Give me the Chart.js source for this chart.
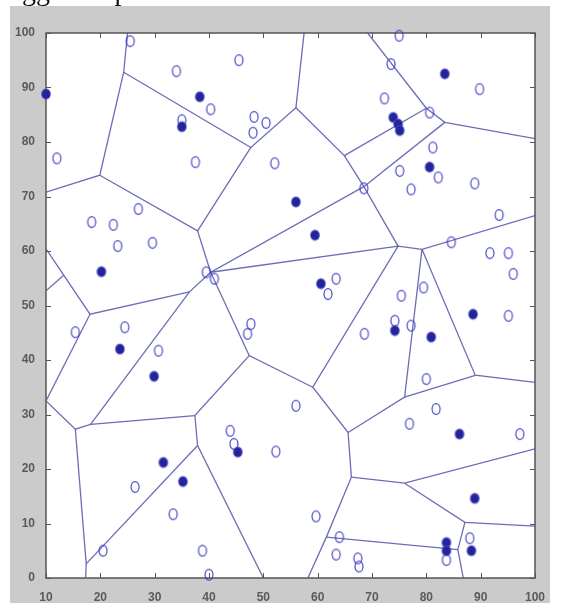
<!DOCTYPE html>
<html>
<head>
<meta charset="utf-8">
<script src="https://cdn.jsdelivr.net/npm/chart.js@4.4.1/dist/chart.umd.min.js"></script>
<style>
  html, body { margin: 0; padding: 0; background: #fff; overflow: hidden; }
  #wrap { position: relative; width: 561px; height: 603px; }
  #cut { position: absolute; left: -3px; top: -25px; font: 28px "Liberation Serif", serif; color: #111; white-space: nowrap; z-index: 2; }
  canvas { position: absolute; left: 0; top: 0; }
</style>
</head>
<body>
<div id="wrap">
  <div id="cut">suggested protocol</div>
  <canvas id="voronoi" width="561" height="603"></canvas>
</div>
<script>
// Diagramme de Voronoi : noeuds (o) et chefs de cluster (*)

const xTicks = [10, 20, 30, 40, 50, 60, 70, 80, 90, 100];
const yTicks = [0, 10, 20, 30, 40, 50, 60, 70, 80, 90, 100];

// noeuds ordinaires
const nodes = [
    [25.5, 98.5], [12, 77], [34, 93], [45.5, 95], [40.3, 86], [35, 84], [37.5, 76.3],
    [48.3, 84.6], [50.5, 83.5], [48.1, 81.7], [52.1, 76.1], [27, 67.7], [18.4, 65.3],
    [22.4, 64.8], [23.2, 60.9], [29.6, 61.5], [39.5, 56.1], [41, 54.9],
    [75, 99.5], [73.5, 94.3], [89.8, 89.7], [72.3, 88], [80.6, 85.4], [81.2, 79],
    [82.2, 73.5], [75.1, 74.7], [77.2, 71.3], [88.9, 72.4], [68.5, 71.5], [93.4, 66.6],
    [84.6, 61.6], [91.7, 59.6], [95.1, 59.6], [96, 55.8], [63.4, 54.9], [61.9, 52.1],
    [75.4, 51.8], [79.5, 53.3], [95.1, 48.1], [74.2, 47.2], [77.2, 46.3], [68.6, 44.8],
    [80, 36.5], [56, 31.6], [81.8, 31], [76.9, 28.3], [97.2, 26.4], [59.7, 11.3],
    [64, 7.5], [63.4, 4.3], [67.4, 3.6], [67.6, 2.1], [83.7, 3.3], [88, 7.3],
    [15.4, 45.1], [24.5, 46], [30.7, 41.7], [47.7, 46.6], [47.1, 44.8], [43.9, 27],
    [44.6, 24.6], [52.3, 23.2], [26.4, 16.7], [33.4, 11.7], [20.5, 5], [38.8, 5], [40, 0.6]
];

// chefs de cluster
const heads = [
    [10, 88.8], [38.3, 88.3], [35, 82.8], [20.2, 56.2], [83.4, 92.5], [73.9, 84.5],
    [74.8, 83.3], [75.1, 82.1], [80.6, 75.4], [56, 69], [59.5, 62.9], [60.6, 54],
    [88.6, 48.4], [74.2, 45.4], [80.9, 44.2], [86.1, 26.4], [88.9, 14.6], [83.7, 6.5],
    [83.7, 5], [88.3, 5], [23.6, 42], [29.9, 37], [45.3, 23.1], [31.6, 21.2], [35.2, 17.7]
];

// aretes du diagramme (polylignes)
const edges = [
    [[10, 70.8], [19.9, 73.9], [24.3, 92.8], [25, 100]],
    [[24.3, 92.8], [47.7, 79], [56, 86.3], [57.5, 100]],
    [[19.9, 73.9], [37.9, 63.7], [47.7, 79]],
    [[37.9, 63.7], [40.3, 56.1], [68.5, 71.8]],
    [[56, 86.3], [64.9, 77.5], [68.5, 71.8], [74.8, 60.9]],
    [[40.3, 56.1], [74.8, 60.9], [79.2, 60.3], [100, 66.5]],
    [[69.2, 100], [80, 86.2], [83.4, 83.6], [100, 80.6]],
    [[64.9, 77.5], [80, 86.2]],
    [[68.5, 71.8], [83.4, 83.6]],
    [[74.8, 60.9], [59.1, 35], [65.6, 26.7], [66.2, 18.5], [61.6, 7.5], [58.2, 0]],
    [[79.2, 60.3], [76, 33.2], [65.6, 26.7]],
    [[79.2, 60.3], [89, 37.2], [100, 35.9]],
    [[76, 33.2], [89, 37.2]],
    [[66.2, 18.5], [76, 17.4], [100, 23.7]],
    [[76, 17.4], [87.1, 10.2], [100, 9.5]],
    [[87.1, 10.2], [85.8, 5.2], [86.8, 0]],
    [[61.6, 7.5], [85.8, 5.2]],
    [[40.3, 56.1], [47.4, 40.8], [59.1, 35]],
    [[47.4, 40.8], [37.4, 29.8], [37.9, 24.3], [50, 0]],
    [[37.4, 29.8], [18.2, 28.2], [15.4, 27.3], [10, 32.5]],
    [[15.4, 27.3], [17.4, 2.6], [17.3, 0]],
    [[37.9, 24.3], [17.4, 2.6]],
    [[18.2, 28.2], [36.4, 52.5], [40.3, 56.1]],
    [[36.4, 52.5], [18.1, 48.4], [10, 60.4]],
    [[18.1, 48.4], [10, 32.5]],
    [[13.2, 55.5], [10, 52.7]]
];

const toXY = p => ({ x: p[0], y: p[1] });

// marqueurs un peu ovales comme sur l'image d'origine
function marker(filled) {
    const c = document.createElement('canvas');
    c.width = 12; c.height = 14;
    const g = c.getContext('2d');
    g.beginPath();
    g.ellipse(6, 7, filled ? 4.4 : 4.0, filled ? 5.0 : 5.4, 0, 0, Math.PI * 2);
    if (filled) {
        g.fillStyle = '#24249a';
        g.fill();
        g.strokeStyle = 'rgba(80, 80, 200, 0.6)';
        g.lineWidth = 1.4;
        g.stroke();
    } else {
        g.strokeStyle = 'rgba(50, 50, 195, 0.9)';
        g.lineWidth = 1.2;
        g.stroke();
    }
    return c;
}

const datasets = edges.map(e => ({
    type: 'scatter',
    data: e.map(toXY),
    showLine: true,
    borderColor: 'rgba(82, 82, 170, 0.85)',
    borderWidth: 1.3,
    pointRadius: 0,
    order: 3
}));

datasets.push({
    type: 'scatter',
    data: nodes.map(toXY),
    pointStyle: marker(false),
    pointRadius: 5,
    clip: false,
    order: 2
});

datasets.push({
    type: 'scatter',
    data: heads.map(toXY),
    pointStyle: marker(true),
    pointRadius: 5,
    clip: false,
    order: 1
});

// fond gris, zone blanche, cadre et graduations interieures
const frame = {
    id: 'frame',
    beforeDraw(chart) {
        const { ctx, chartArea: a } = chart;
        ctx.save();
        ctx.fillStyle = '#cbcbcb';
        ctx.fillRect(10, 6, 540, 597);
        ctx.fillStyle = '#fff';
        ctx.fillRect(a.left, a.top, a.right - a.left, a.bottom - a.top);
        ctx.restore();
    },
    beforeDatasetsDraw(chart) {
        const { ctx, chartArea: a, scales } = chart;
        ctx.save();
        ctx.strokeStyle = '#555';
        ctx.lineWidth = 1.5;
        ctx.strokeRect(a.left, a.top, a.right - a.left, a.bottom - a.top);
        ctx.lineWidth = 1;
        ctx.beginPath();
        xTicks.forEach(v => {
            const px = Math.round(scales.x.getPixelForValue(v)) + 0.5;
            ctx.moveTo(px, a.bottom); ctx.lineTo(px, a.bottom - 5);
            ctx.moveTo(px, a.top); ctx.lineTo(px, a.top + 5);
        });
        yTicks.forEach(v => {
            const py = Math.round(scales.y.getPixelForValue(v)) + 0.5;
            ctx.moveTo(a.left, py); ctx.lineTo(a.left + 5, py);
            ctx.moveTo(a.right, py); ctx.lineTo(a.right - 5, py);
        });
        ctx.stroke();
        ctx.restore();
    }
};

const tickFont = { family: 'Liberation Sans', size: 12, weight: 'bold' };

new Chart(document.getElementById('voronoi'), {
    type: 'scatter',
    data: { datasets: datasets },
    options: {
        responsive: false,
        animation: false,
        devicePixelRatio: 1,
        layout: { padding: { top: 33, right: 26, left: 0, bottom: 0 } },
        plugins: {
            legend: { display: false },
            tooltip: { enabled: false }
        },
        scales: {
            x: {
                type: 'linear',
                min: 10,
                max: 100,
                afterBuildTicks: s => { s.ticks = xTicks.map(v => ({ value: v })); },
                ticks: { color: '#5a5a5a', font: tickFont, padding: 4, maxRotation: 0 },
                grid: { display: false },
                border: { display: false },
                afterFit: s => { s.height = 25; }
            },
            y: {
                type: 'linear',
                min: 0,
                max: 100,
                afterBuildTicks: s => { s.ticks = yTicks.map(v => ({ value: v })); },
                ticks: { color: '#5a5a5a', font: tickFont, padding: 3 },
                grid: { display: false },
                border: { display: false },
                afterFit: s => { s.width = 46; }
            }
        }
    },
    plugins: [frame]
});
</script>
</body>
</html>
